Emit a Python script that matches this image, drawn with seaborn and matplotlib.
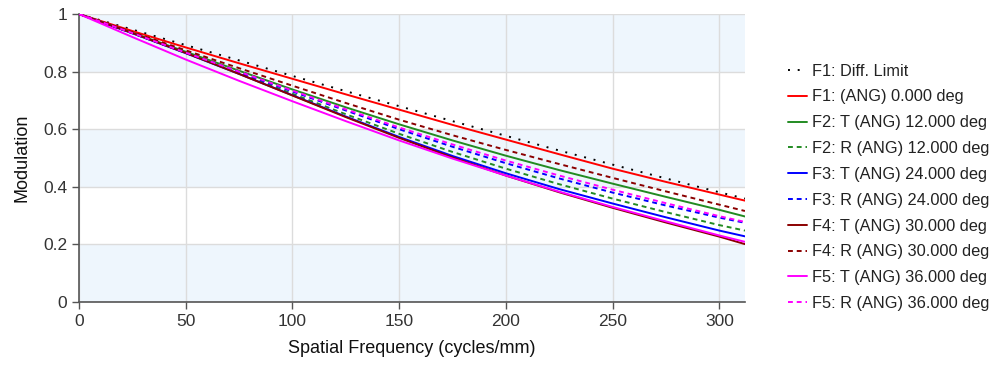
import matplotlib
matplotlib.use("Agg")
import matplotlib.pyplot as plt
import seaborn as sns

# spatial frequency samples (cycles/mm)
freq = [0, 25, 50, 75, 100, 125, 150, 175, 200, 225, 250, 275, 300, 312]

diff_limit = [1.0, 0.946, 0.892, 0.839, 0.785, 0.732, 0.680, 0.628, 0.577, 0.526, 0.477, 0.429, 0.381, 0.359]
f1_ang = [1.0, 0.941, 0.884, 0.829, 0.775, 0.721, 0.668, 0.615, 0.564, 0.513, 0.463, 0.417, 0.373, 0.352]
f2_t = [1.0, 0.935, 0.869, 0.803, 0.738, 0.676, 0.617, 0.561, 0.508, 0.458, 0.411, 0.365, 0.320, 0.297]
f2_r = [1.0, 0.934, 0.866, 0.795, 0.723, 0.652, 0.584, 0.521, 0.463, 0.409, 0.359, 0.312, 0.267, 0.248]
f3_t = [1.0, 0.933, 0.864, 0.792, 0.718, 0.644, 0.573, 0.507, 0.447, 0.392, 0.342, 0.294, 0.248, 0.228]
f3_r = [1.0, 0.933, 0.865, 0.798, 0.731, 0.665, 0.600, 0.539, 0.482, 0.429, 0.380, 0.335, 0.293, 0.275]
f4_t = [1.0, 0.934, 0.865, 0.792, 0.717, 0.642, 0.570, 0.502, 0.439, 0.381, 0.327, 0.276, 0.227, 0.201]
f4_r = [1.0, 0.937, 0.874, 0.812, 0.751, 0.691, 0.633, 0.579, 0.528, 0.479, 0.431, 0.384, 0.338, 0.316]
f5_t = [1.0, 0.920, 0.842, 0.768, 0.697, 0.628, 0.561, 0.498, 0.439, 0.383, 0.330, 0.280, 0.231, 0.209]
f5_r = [1.0, 0.934, 0.866, 0.800, 0.734, 0.669, 0.606, 0.547, 0.491, 0.439, 0.390, 0.343, 0.298, 0.278]

labels = ["F1: Diff. Limit", "F1: (ANG) 0.000 deg",
          "F2: T (ANG) 12.000 deg", "F2: R (ANG) 12.000 deg",
          "F3: T (ANG) 24.000 deg", "F3: R (ANG) 24.000 deg",
          "F4: T (ANG) 30.000 deg", "F4: R (ANG) 30.000 deg",
          "F5: T (ANG) 36.000 deg", "F5: R (ANG) 36.000 deg"]
series = [diff_limit, f1_ang, f2_t, f2_r, f3_t, f3_r, f4_t, f4_r, f5_t, f5_r]
colors = ["#000000", "#ff0000", "#228b22", "#228b22", "#0000ff", "#0000ff",
          "#8b0000", "#8b0000", "#ff00ff", "#ff00ff"]
dotted = (0, (1, 4))
dashed = (0, (2.5, 2))
styles = [dotted, "-", "-", dashed, "-", dashed, "-", dashed, "-", dashed]

sns.set_theme(style="white")
plt.rcParams['font.family'] = ['Liberation Sans', 'DejaVu Sans']

fig = plt.figure(figsize=(9.95, 3.65), dpi=100)
ax = fig.add_axes([0.0794, 0.1726, 0.6693, 0.789])

# alternating horizontal bands
for lo in [0.0, 0.4, 0.8]:
    ax.axhspan(lo, lo + 0.2, color="#eef6fd", zorder=0, lw=0)

for vals, lab, col, ls in zip(series, labels, colors, styles):
    sns.lineplot(x=freq, y=vals, ax=ax, color=col, linestyle=ls, lw=1.4,
                 label=lab, zorder=3)

ax.set_xlim(0, 312)
ax.set_ylim(0, 1)
ax.set_xticks([0, 50, 100, 150, 200, 250, 300])
ax.set_yticks([0, 0.2, 0.4, 0.6, 0.8, 1.0])
ax.set_yticklabels(["0", "0.2", "0.4", "0.6", "0.8", "1"])
ax.grid(True, color="#dcdcdc", lw=1, zorder=1)
ax.set_axisbelow(True)

for s in ["top", "right"]:
    ax.spines[s].set_visible(False)
for s in ["left", "bottom"]:
    ax.spines[s].set_color("#555555")
    ax.spines[s].set_linewidth(1.2)
ax.tick_params(axis="both", which="both", direction="out", length=5,
               width=1, color="#555555", labelsize=12.5, labelcolor="#333333",
               left=True, bottom=True)

ax.set_xlabel("Spatial Frequency (cycles/mm)", fontsize=13, color="#111111", labelpad=8)
ax.set_ylabel("Modulation", fontsize=13, color="#111111", labelpad=9)

leg = ax.legend(loc="upper left", bbox_to_anchor=(0.777, 0.866),
                bbox_transform=fig.transFigure, frameon=False, fontsize=11.8,
                handlelength=1.15, handletextpad=0.3, labelspacing=0.66)
for t in leg.get_texts():
    t.set_color("#222222")

fig.savefig("out.png", dpi=100)
